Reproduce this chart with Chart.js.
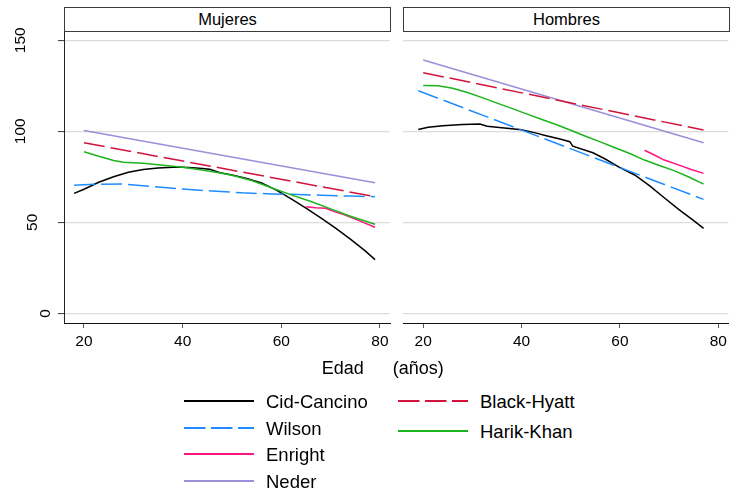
<!DOCTYPE html>
<html>
<head>
<meta charset="utf-8">
<script src="https://cdn.jsdelivr.net/npm/chart.js@4.4.1/dist/chart.umd.min.js"></script>
<style>
  html, body { margin: 0; padding: 0; background: #fff; }
  #wrap { position: relative; width: 731px; height: 495px; overflow: hidden;
          font-family: "Liberation Sans", Arial, Helvetica, sans-serif; color: #000; }
  #wrap canvas { position: absolute; top: 0; }
  .strip { position: absolute; top: 7px; height: 25px; box-sizing: border-box;
           border: 1px solid #3a3a3a; background: #fff; font-size: 16.5px;
           line-height: 23px; text-align: center; white-space: nowrap; }
  #xtitle { position: absolute; left: 321.7px; top: 359.3px; font-size: 18px;
            line-height: 1; word-spacing: 24px; white-space: nowrap; }
  .lg-line { position: absolute; width: 72px; height: 20px; }
  .lg-text { position: absolute; font-size: 18.5px; line-height: 1; white-space: nowrap; }
</style>
</head>
<body>
<div id="wrap">
  <canvas id="cMujeres" width="400" height="360" style="left:0px"></canvas>
  <canvas id="cHombres" width="351" height="360" style="left:380px"></canvas>
  <div class="strip" style="left:64px;width:327px">Mujeres</div>
  <div class="strip" style="left:403px;width:327px">Hombres</div>
  <div id="xtitle">Edad (años)</div>
  <div id="legend"></div>
</div>
<script>
// Axis ticks
const xTicks = [20, 40, 60, 80];
const yTicks = [0, 50, 100, 150];

// Reference equation names, in legend order
const seriesNames = ['Cid-Cancino', 'Wilson', 'Enright', 'Neder', 'Black-Hyatt', 'Harik-Khan'];
const seriesColors = ['#000000', '#1e8cff', '#ff1480', '#9a8fd8', '#d2143c', '#1cb41c'];
const seriesDashed = [false, true, false, false, true, false];

// Mujeres: [edad, valor predicho]
const mujCidCancino = [[18,65.9],[20,68.2],[23,72.0],[26,75.0],[29,77.5],[32,79.0],[35,79.8],[38,80.2],[40,80.3],[42,80.0],[44,79.6],[45.5,79.1],[47.6,77.3],[50,76.0],[53,74.1],[56,71.6],[59,67.7],[62,62.9],[65,57.8],[68,52.5],[71,46.8],[74,40.8],[77,34.3],[79,29.5]];
const mujWilson = [[18,70.4],[22,70.9],[28,71.0],[34,69.7],[40,68.3],[46,67.2],[52,66.2],[58,65.6],[62,65.4],[68,64.9],[74,64.4],[79,64.1]];
const mujEnright = [[65,58.6],[67,58.0],[69,57.7],[71,55.6],[72,54.9],[75.5,51.2],[79,47.3]];
const mujNeder = [[20,100.5],[79,71.8]];
const mujBlackHyatt = [[20,93.7],[79,64.1]];
const mujHarikKhan = [[20,88.8],[23,86.3],[26,84.0],[28,83.0],[32,82.4],[37,81.1],[40,80.2],[44,78.7],[47,77.4],[50,75.9],[54,73.0],[58,69.0],[62,65.1],[66,61.4],[70,57.4],[74,53.3],[79,48.9]];

// Hombres: [edad, valor predicho]
const homCidCancino = [[19,101.0],[21,102.2],[24,103.0],[28,103.7],[31.5,104.0],[33,102.8],[36,102.0],[40,100.8],[43,99.0],[45,97.6],[48,95.6],[49.8,94.3],[50.4,91.8],[54.5,88.2],[57,84.8],[60,80.1],[63,76.0],[66,70.2],[69,63.5],[72,57.0],[75,50.9],[77,46.7]];
const homWilson = [[19,122.3],[77,62.6]];
const homEnright = [[65,89.6],[67,87.0],[69,84.2],[69.5,83.8],[72,81.4],[74.5,79.0],[77,76.9]];
const homNeder = [[20,139.2],[77,93.7]];
const homBlackHyatt = [[20,132.2],[77,100.7]];
const homHarikKhan = [[20,125.2],[23,125.0],[26,123.6],[29,121.3],[32,118.5],[35,115.5],[38,112.6],[41,109.6],[44,106.6],[47,103.7],[50,100.6],[53,97.3],[56,94.2],[59,91.0],[62,87.8],[65,84.2],[68,81.2],[71,78.4],[74,74.9],[77,71.0]];

const mujeresSeries = [mujCidCancino, mujWilson, mujEnright, mujNeder, mujBlackHyatt, mujHarikKhan];
const hombresSeries = [homCidCancino, homWilson, homEnright, homNeder, homBlackHyatt, homHarikKhan];

const FONT = '"Liberation Sans", Arial, Helvetica, sans-serif';
const X_MIN = 15.95, X_MAX = 82.03;
const Y_MIN = -5.3, Y_MAX = 155.1;
const DASH = [21, 6];

function buildDatasets(series) {
  return series.map((pts, i) => ({
    label: seriesNames[i],
    data: pts.map(p => ({ x: p[0], y: p[1] })),
    borderColor: seriesColors[i],
    backgroundColor: seriesColors[i],
    borderWidth: 1.5,
    borderDash: seriesDashed[i] ? DASH : [],
    pointRadius: 0,
    tension: 0,
    fill: false,
    order: series.length - i
  }));
}

// Vertical y labels; shorter labels sit closer to the axis
const rotatedYLabels = {
  id: 'rotatedYLabels',
  afterDraw(chart) {
    const s = chart.scales.y;
    const ctx = chart.ctx;
    ctx.save();
    ctx.font = '15.5px ' + FONT;
    ctx.fillStyle = '#000';
    ctx.textAlign = 'center';
    ctx.textBaseline = 'middle';
    s.ticks.forEach(t => {
      const txt = t.label != null ? String(t.label) : String(t.value);
      const w = ctx.measureText(txt).width;
      const cx = s.right - 6.1 - 1.45 * w;
      const cy = s.getPixelForValue(t.value);
      ctx.save();
      ctx.translate(cx, cy);
      ctx.rotate(-Math.PI / 2);
      ctx.fillText(txt, 0, 0);
      ctx.restore();
    });
    ctx.restore();
  }
};

function makeOptions(isLeft) {
  return {
    responsive: false,
    animation: false,
    devicePixelRatio: 1,
    layout: { padding: { top: 31, right: isLeft ? 10 : 2, left: 0, bottom: 0 } },
    plugins: { legend: { display: false }, tooltip: { enabled: false }, title: { display: false } },
    scales: {
      x: {
        type: 'linear',
        min: X_MIN, max: X_MAX,
        afterBuildTicks: s => { s.ticks = xTicks.map(v => ({ value: v })); },
        afterFit: s => { s.height = 37; },
        ticks: { font: { family: FONT, size: 15.5 }, color: '#000', padding: 4, maxRotation: 0, autoSkip: false },
        grid: { drawOnChartArea: false, drawTicks: true, tickLength: 5, tickColor: '#555', tickWidth: 1 },
        border: { display: true, color: '#111', width: 1 }
      },
      y: {
        type: 'linear',
        min: Y_MIN, max: Y_MAX,
        afterBuildTicks: s => { s.ticks = yTicks.map(v => ({ value: v })); },
        afterFit: s => { s.width = isLeft ? 64 : 23.3; },
        ticks: { display: false },
        grid: { color: '#dcdcdc', lineWidth: 1.2, drawTicks: isLeft, tickLength: 6, tickColor: '#333', tickWidth: 1 },
        border: { display: isLeft, color: '#222', width: 1 }
      }
    }
  };
}

Chart.defaults.font.family = FONT;

const chartMujeres = new Chart(document.getElementById('cMujeres'), {
  type: 'line',
  data: { datasets: buildDatasets(mujeresSeries) },
  options: makeOptions(true),
  plugins: [rotatedYLabels]
});

const chartHombres = new Chart(document.getElementById('cHombres'), {
  type: 'line',
  data: { datasets: buildDatasets(hombresSeries) },
  options: makeOptions(false)
});

// Two-column legend built from the datasets
const legendSlots = [
  { x: 184, y: 401 }, { x: 184, y: 427.7 }, { x: 184, y: 454.3 }, { x: 184, y: 480.7 },
  { x: 398, y: 401 }, { x: 398, y: 431 }
];
const legendEl = document.getElementById('legend');
chartMujeres.data.datasets.forEach((ds, i) => {
  const slot = legendSlots[i];
  const svgNS = 'http://www.w3.org/2000/svg';
  const svg = document.createElementNS(svgNS, 'svg');
  svg.setAttribute('class', 'lg-line');
  svg.setAttribute('width', '72');
  svg.setAttribute('height', '20');
  svg.style.left = slot.x + 'px';
  svg.style.top = (slot.y - 10) + 'px';
  const ln = document.createElementNS(svgNS, 'line');
  ln.setAttribute('x1', '0'); ln.setAttribute('y1', '10');
  ln.setAttribute('x2', '70'); ln.setAttribute('y2', '10');
  ln.setAttribute('stroke', ds.borderColor);
  ln.setAttribute('stroke-width', '2');
  if (ds.borderDash && ds.borderDash.length) ln.setAttribute('stroke-dasharray', '21.5 5.5');
  svg.appendChild(ln);
  legendEl.appendChild(svg);

  const tx = document.createElement('div');
  tx.className = 'lg-text';
  tx.textContent = ds.label;
  tx.style.left = (slot.x + 82) + 'px';
  tx.style.top = (slot.y - 8.2) + 'px';
  legendEl.appendChild(tx);
});
</script>
</body>
</html>
